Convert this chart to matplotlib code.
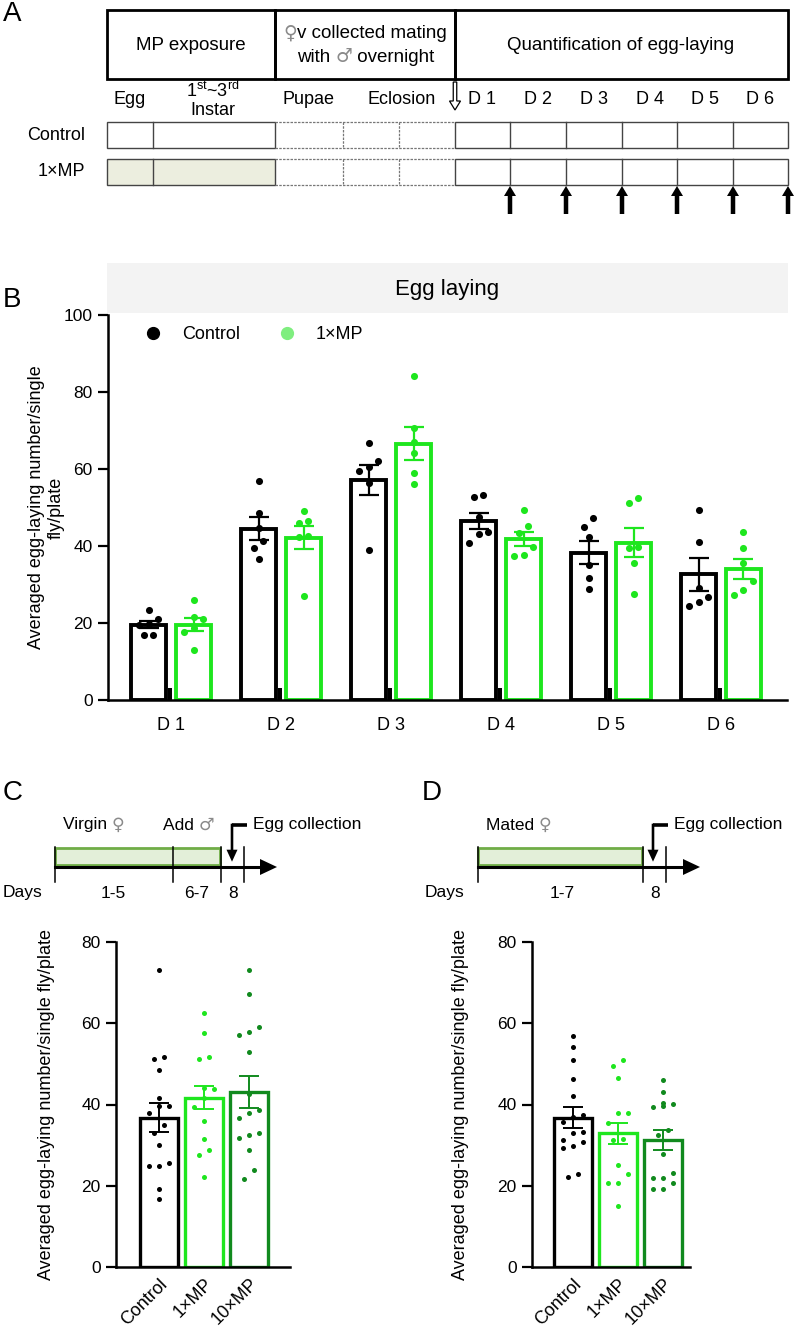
import numpy as np
import matplotlib
matplotlib.use('Agg')
import matplotlib.pyplot as plt
from matplotlib.patches import Rectangle, FancyArrow, Polygon
from matplotlib.lines import Line2D

plt.rcParams['font.family'] = ['Liberation Sans', 'DejaVu Sans']
plt.rcParams['mathtext.fontset'] = 'custom'
plt.rcParams['mathtext.rm'] = 'Liberation Sans'
plt.rcParams['mathtext.it'] = 'Liberation Sans:italic'
plt.rcParams['mathtext.bf'] = 'Liberation Sans:bold'

# ---------------- data ----------------
days = ['D 1', 'D 2', 'D 3', 'D 4', 'D 5', 'D 6']
b_series = ['Control', '1×MP']
b_control_mean = [19.6, 44.5, 57.2, 46.6, 38.3, 32.6]
b_control_sem = [1.0, 3.0, 3.9, 2.1, 3.1, 4.2]
b_mp_mean = [19.6, 42.2, 66.6, 41.9, 40.9, 34.1]
b_mp_sem = [1.8, 3.0, 4.2, 1.8, 3.8, 2.6]
b_control_pts = [
    [23.4, 21.0, 19.7, 19.5, 16.9, 16.9],
    [56.9, 48.5, 44.7, 41.3, 39.4, 36.6],
    [66.8, 62.1, 60.5, 59.5, 56.4, 39.0],
    [52.7, 53.2, 47.5, 43.1, 43.6, 40.8],
    [47.3, 44.9, 42.3, 35.1, 31.7, 28.8],
    [49.4, 41.0, 29.1, 26.8, 25.5, 24.4],
]
b_mp_pts = [
    [26.0, 21.6, 21.0, 18.7, 17.7, 13.0],
    [49.2, 46.5, 46.0, 42.6, 42.3, 27.0],
    [84.2, 70.6, 67.0, 64.2, 59.0, 56.1],
    [49.4, 45.2, 43.4, 39.7, 37.7, 37.4],
    [51.2, 52.5, 39.7, 39.5, 35.6, 27.5],
    [43.6, 39.4, 35.6, 30.9, 28.6, 27.3],
]
b_base_mark = 3.0

cd_groups = ['Control', '1×MP', '10×MP']
c_mean = [36.8, 41.7, 43.0]
c_sem = [3.6, 2.8, 3.9]
c_pts = [
    [73.0, 51.8, 51.2, 48.5, 41.5, 39.7, 39.7, 37.8, 35.0, 32.9, 30.0, 25.7, 24.9, 24.9, 19.1, 16.7],
    [62.6, 57.5, 51.8, 51.2, 44.0, 43.7, 41.5, 39.5, 35.9, 31.4, 28.8, 27.6, 22.2],
    [73.0, 67.2, 59.0, 57.8, 57.1, 53.0, 42.5, 38.6, 37.8, 36.6, 32.9, 32.5, 31.7, 28.8, 24.0, 21.6],
]
d_mean = [36.8, 32.9, 31.3]
d_sem = [2.6, 2.6, 2.4]
d_pts = [
    [56.9, 54.2, 51.0, 46.3, 42.1, 37.4, 37.0, 35.8, 33.3, 33.1, 31.3, 30.8, 29.8, 29.4, 22.9, 22.2],
    [51.0, 49.6, 46.6, 38.0, 37.8, 35.5, 31.4, 31.3, 25.1, 22.8, 20.8, 20.6, 15.1],
    [46.0, 43.2, 40.3, 39.7, 39.5, 40.1, 33.7, 32.5, 27.7, 22.0, 20.8, 21.9, 23.2, 19.1, 19.1],
]

schedule_cols = ['Egg', '1$^{\\rm st}$~3$^{\\rm rd}$\nInstar', 'Pupae', 'Eclosion']
rows_a = ['Control', '1×MP']

# ---------------- styles ----------------
BLACK = '#000000'
GREEN = '#1ee61e'
DGREEN = '#118a1e'
LEG_GREEN = '#7fee7f'
cd_colors = [BLACK, GREEN, DGREEN]

W, H = 795, 1327
fig = plt.figure(figsize=(W / 100, H / 100), dpi=100)

ov = fig.add_axes([0, 0, 1, 1])
ov.set_xlim(0, W)
ov.set_ylim(H, 0)
ov.axis('off')


def px_axes(left, top, right, bottom):
    return fig.add_axes([left / W, 1 - bottom / H, (right - left) / W, (bottom - top) / H])


def swarm_offsets(vals, thresh, step, maxk=3):
    vals = np.asarray(vals, float)
    order = np.argsort(vals)
    offs = np.zeros(len(vals))
    clusters, cur = [], [order[0]]
    for idx in order[1:]:
        if vals[idx] - vals[cur[-1]] < thresh and len(cur) < maxk:
            cur.append(idx)
        else:
            clusters.append(cur)
            cur = [idx]
    clusters.append(cur)
    for cl in clusters:
        k = len(cl)
        for j, idx in enumerate(cl):
            offs[idx] = (j - (k - 1) / 2) * step
    return offs


# ---------------- Panel A ----------------
ov.text(3, 14, 'A', fontsize=20, va='center', ha='left')
for (x0, x1) in [(107, 275), (275, 455), (455, 788)]:
    ov.add_patch(Rectangle((x0, 10), x1 - x0, 69, fill=False, lw=2.0, ec='black'))
ov.text(191, 45, 'MP exposure', fontsize=13.5, ha='center', va='center')
ov.text(621, 45, 'Quantification of egg-laying', fontsize=13.5, ha='center', va='center')
# box 2 with symbols
t1 = ov.text(283, 33, '♀', fontsize=13.5, ha='left', va='center', color='#8a8a8a',
             family=['DejaVu Sans'])
ov.annotate('v collected mating', xy=(1, 0.5), xycoords=t1, fontsize=13.5, ha='left', va='center')
t2 = ov.text(297, 57, 'with ', fontsize=13.5, ha='left', va='center')
t3 = ov.annotate('♂', xy=(1, 0.5), xycoords=t2, fontsize=13.5, ha='left', va='center', color='#8a8a8a',
                 family=['DejaVu Sans'])
ov.annotate(' overnight', xy=(1, 0.5), xycoords=t3, fontsize=13.5, ha='left', va='center')

# label row
col_x = [130, 213, 308, 402]
for lab, x in zip(schedule_cols, col_x):
    ov.text(x, 100, lab, fontsize=13, ha='center', va='center', linespacing=1.1)
day_cells = [455, 510, 566, 622, 677, 733, 788]
for i, d in enumerate(days):
    ov.text((day_cells[i] + day_cells[i + 1]) / 2, 100, d, fontsize=13, ha='center', va='center')
ov.add_patch(FancyArrow(455, 82, 0, 28, width=3.5, head_width=11, head_length=9,
                        length_includes_head=True, fc='white', ec='black', lw=0.9))

row_y = [122, 159]
row_h = 26
LC = '#444444'
for r, (lab, y) in enumerate(zip(rows_a, row_y)):
    ov.text(85, y + row_h / 2, lab, fontsize=13, ha='right', va='center')
    if r == 1:
        ov.add_patch(Rectangle((107, y), 168, row_h, fc='#eceedf', ec='none'))
    ov.add_patch(Rectangle((107, y), 168, row_h, fill=False, ec=LC, lw=1.0))
    ov.add_patch(Rectangle((455, y), 333, row_h, fill=False, ec=LC, lw=1.0))
    ov.plot([275, 455], [y, y], color='#777777', lw=0.9, ls=(0, (2, 1)))
    ov.plot([275, 455], [y + row_h, y + row_h], color='#777777', lw=0.9, ls=(0, (2, 1)))
    ov.plot([153, 153], [y, y + row_h], color=LC, lw=1.0)
    for xv in [343, 399]:
        ov.plot([xv, xv], [y, y + row_h], color='#777777', lw=0.9, ls=(0, (2, 1)))
    for xv in day_cells[1:-1]:
        ov.plot([xv, xv], [y, y + row_h], color=LC, lw=1.0)
for xv in day_cells[1:]:
    ov.add_patch(FancyArrow(xv, 214, 0, -28, width=4.5, head_width=12, head_length=10,
                            length_includes_head=True, fc='black', ec='black', lw=0))

# ---------------- Panel B ----------------
ov.text(3, 300, 'B', fontsize=20, va='center', ha='left')
ov.add_patch(Rectangle((107, 263), 681, 50, fc='#f3f3f3', ec='none'))
ov.text(447, 289, 'Egg laying', fontsize=16, ha='center', va='center')

axB = px_axes(108, 315, 787, 700)
x = np.arange(len(days))
off = 0.2045
bw = 0.32
for means, sems, pts, col, sgn in [(b_control_mean, b_control_sem, b_control_pts, BLACK, -1),
                                   (b_mp_mean, b_mp_sem, b_mp_pts, GREEN, 1)]:
    xs = x + sgn * off
    axB.bar(xs, means, width=bw, facecolor='white', edgecolor=col, linewidth=2.8, zorder=2)
    for i, p in enumerate(pts):
        o = swarm_offsets(p, 2.6, 0.085)
        axB.scatter(xs[i] + o, p, s=26, color=col, zorder=3, lw=0)
    axB.errorbar(xs, means, yerr=sems, fmt='none', ecolor=col, elinewidth=1.6,
                 capsize=7, capthick=1.6, zorder=4)
axB.bar(x - 0.008, [b_base_mark] * len(days), width=0.04, color='black', zorder=3, lw=0)
axB.set_xlim(-0.573, 5.6)
axB.set_ylim(0, 100)
axB.set_yticks(np.arange(0, 101, 20))
axB.set_xticks(x)
axB.set_xticklabels(days)
for s in ['top', 'right']:
    axB.spines[s].set_visible(False)
for s in ['left', 'bottom']:
    axB.spines[s].set_linewidth(1.8)
axB.tick_params(axis='y', length=7, width=1.6, labelsize=12.5, pad=4)
axB.tick_params(axis='x', length=0, labelsize=13, pad=12)
axB.set_ylabel('Averaged egg-laying number/single\nfly/plate', fontsize=13, linespacing=1.25)
axB.yaxis.set_label_coords(-0.063, 0.5)
axB.patch.set_alpha(0)
handles = [Line2D([], [], marker='o', ls='none', color=BLACK, markersize=8.5),
           Line2D([], [], marker='o', ls='none', color=LEG_GREEN, markersize=8.5)]
axB.legend(handles, b_series, loc='center left', bbox_to_anchor=(126 / W, 1 - 335 / H),
           bbox_transform=fig.transFigure, ncol=2, frameon=False, fontsize=13,
           handletextpad=0.6, columnspacing=1.6, borderpad=0)


# ---------------- Panels C & D ----------------
def bar_panel(ax, means, sems, pts, xlim):
    xc = np.arange(len(cd_groups))
    for i in range(len(cd_groups)):
        ax.bar(xc[i], means[i], width=0.84, facecolor='white', edgecolor=cd_colors[i],
               linewidth=2.4, zorder=2)
        o = swarm_offsets(pts[i], 2.4, 0.22)
        ax.scatter(xc[i] + o, pts[i], s=13, color=cd_colors[i], zorder=3, lw=0)
        ax.errorbar(xc[i], means[i], yerr=sems[i], fmt='none', ecolor=cd_colors[i],
                    elinewidth=1.4, capsize=7, capthick=1.4, zorder=4)
    ax.set_xlim(*xlim)
    ax.set_ylim(0, 80)
    ax.set_yticks(np.arange(0, 81, 20))
    ax.set_xticks(xc)
    ax.set_xticklabels(cd_groups, rotation=45, ha='right', va='top', rotation_mode='anchor')
    for s in ['top', 'right']:
        ax.spines[s].set_visible(False)
    for s in ['left', 'bottom']:
        ax.spines[s].set_linewidth(1.8)
    ax.tick_params(axis='y', length=7, width=1.6, labelsize=12.5, pad=4)
    ax.tick_params(axis='x', length=0, labelsize=13, pad=6)
    ax.set_ylabel('Averaged egg-laying number/single fly/plate', fontsize=13)
    ax.patch.set_alpha(0)


axC = px_axes(116, 942, 290, 1267)
bar_panel(axC, c_mean, c_sem, c_pts, (-0.944, 2.9))
axC.yaxis.set_label_coords(-0.35, 0.5)
axD = px_axes(532, 942, 690, 1267)
bar_panel(axD, d_mean, d_sem, d_pts, (-0.92, 2.6))
axD.yaxis.set_label_coords(-0.40, 0.5)


def timeline(x_days, x0, x_box1, ticks, tip, labels, tops, egg_x):
    y = 867
    ov.text(x_days, 893, 'Days', fontsize=12.5, ha='left', va='center')
    ov.add_patch(Rectangle((x0, 848), x_box1 - x0, 17, fc='#e3efd9', ec='#70ad47', lw=2.0, zorder=2))
    ov.plot([x0, tip - 12], [y, y], color='black', lw=2.2, zorder=3)
    ov.add_patch(Polygon([[tip - 17, y - 8], [tip, y], [tip - 17, y + 8]], closed=True,
                         fc='black', ec='black', lw=0, zorder=3))
    for tx in ticks:
        ov.plot([tx, tx], [847, 882], color='black', lw=1.1, zorder=3)
    for lab, lx in labels:
        ov.text(lx, 893, lab, fontsize=12.5, ha='center', va='center')
    for parts, lx in tops:
        prev = None
        for txt, col, fam in parts:
            if prev is None:
                prev = ov.text(lx, 825, txt, fontsize=12.5, ha='left', va='center', color=col,
                               family=fam)
            else:
                prev = ov.annotate(txt, xy=(1, 0.5), xycoords=prev, fontsize=12.5, ha='left',
                                   va='center', color=col, family=fam)
    ov.plot([egg_x + 15, egg_x], [825, 825], color='black', lw=2.6, solid_capstyle='butt')
    ov.add_patch(FancyArrow(egg_x, 823.7, 0, 38, width=2.6, head_width=11, head_length=12,
                            length_includes_head=True, fc='black', ec='black', lw=0))
    ov.text(egg_x + 21, 825, 'Egg collection', fontsize=12.5, ha='left', va='center')


SANS = ['Liberation Sans', 'DejaVu Sans']
SYM = ['DejaVu Sans']
ov.text(3, 793, 'C', fontsize=20, va='center', ha='left')
timeline(3, 55, 220, [55, 173, 221, 244], 277, [('1-5', 113), ('6-7', 197), ('8', 233)],
         [([('Virgin ', 'black', SANS), ('♀', '#8a8a8a', SYM)], 63),
          ([('Add ', 'black', SANS), ('♂', '#8a8a8a', SYM)], 163)], 232)
ov.text(422, 793, 'D', fontsize=20, va='center', ha='left')
timeline(425, 478, 642, [478, 643, 666], 700, [('1-7', 562), ('8', 655)],
         [([('Mated ', 'black', SANS), ('♀', '#8a8a8a', SYM)], 486)], 653)

fig.savefig('out.png', dpi=100)
